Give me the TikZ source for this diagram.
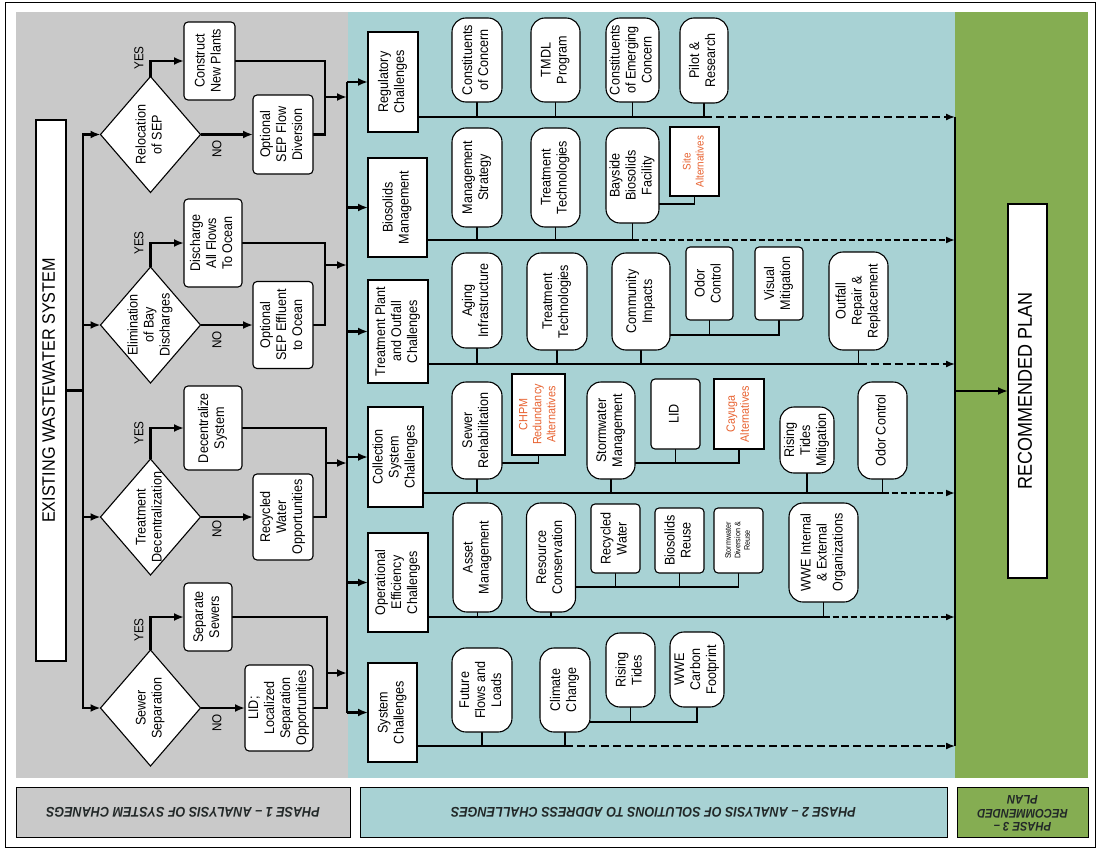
\documentclass[tikz,border=0pt]{standalone}
\usepackage{fontspec}
\setmainfont{Liberation Sans}[FakeStretch=0.9]
\usetikzlibrary{arrows.meta,shapes.geometric}
\definecolor{pgray}{RGB}{201,201,201}
\definecolor{pteal}{RGB}{168,210,212}
\definecolor{pgreen}{RGB}{133,173,82}
\definecolor{altc}{RGB}{232,98,48}
\definecolor{phtxt}{RGB}{34,40,40}
\pgfdeclarelayer{bg}
\pgfdeclarelayer{lines}
\pgfsetlayers{bg,lines,main}
\newcommand{\vtext}[1]{\rotatebox{90}{\begin{tabular}{@{}c@{}}#1\end{tabular}}}
\begin{document}
\begin{tikzpicture}[x=1pt,y=-1pt,
  every node/.style={inner sep=0pt,outer sep=0pt,font=\fontsize{14}{16}\selectfont},
  sq/.style={draw,line width=1.1pt,fill=white},
  rnd/.style={draw,line width=1.1pt,fill=white,rounded corners=4pt},
  pill/.style={draw,line width=1.1pt,fill=white,rounded corners=14pt},
  dia/.style={diamond,draw,line width=1.1pt,fill=white,minimum width=100pt,minimum height=116pt},
  alt/.style={sq,text=altc,font=\fontsize{11}{13}\selectfont},
  lab/.style={font=\fontsize{13}{15}\selectfont},
  ln1/.style={line width=2.2pt},
  arw/.style={line width=2.2pt,-{Latex[length=10pt,width=8pt]}},
  ln2/.style={line width=1.8pt},
  arw2/.style={line width=2.2pt,-{Latex[length=10pt,width=8pt]}},
  bus/.style={line width=1.3pt},
  conn/.style={line width=1.2pt},
  dshA/.style={line width=1.5pt,dash pattern=on 8pt off 4pt,-{Latex[length=9pt,width=7pt]}},
  dshB/.style={line width=2.6pt,dash pattern=on 6pt off 3pt,-{Latex[length=9pt,width=7pt]}},
  phl/.style={draw,line width=1pt,minimum height=50pt,font=\fontsize{14}{16}\selectfont\bfseries\itshape,text=phtxt}
]
\useasboundingbox (0,0) rectangle (1099,851);
\begin{pgfonlayer}{bg}
\fill[white] (0,0) rectangle (1099,851);
\draw[line width=1pt] (5,3) rectangle (1095,847);
\fill[pgray] (16,12) rectangle (348,778);
\fill[pteal] (348,12) rectangle (955,778);
\fill[pgreen] (955,12) rectangle (1088,778);
\end{pgfonlayer}

% ---------- phase labels
\node[phl,fill=pgray,minimum width=334pt] (ph1) at (183,812) {\rotatebox{180}{PHASE 1 – ANALYSIS OF SYSTEM CHANEGS}};
\node[phl,fill=pteal,minimum width=587pt] (ph2) at (653.5,812) {\rotatebox{180}{PHASE 2 – ANALYSIS OF SOLUTIONS TO ADDRESS CHALLENGES}};
\node[phl,fill=pgreen,minimum width=131pt,font=\fontsize{12.5}{13.5}\selectfont\bfseries\itshape] (ph3) at (1022.5,812) {\rotatebox{180}{\begin{tabular}{@{}c@{}}PHASE 3 –\\RECOMMENDED\\PLAN\end{tabular}}};

% ---------- phase 1
\node[sq,minimum width=30pt,minimum height=541pt,font=\fontsize{18}{20}\selectfont] (exist) at (51,390.5) {\vtext{EXISTING WASTEWATER SYSTEM}};

\node[dia] (d1) at (150.5,134.5) {};
\node (d1t) at (d1.center) {\vtext{Relocation\\of SEP}};
\node[dia] (d2) at (150.5,325) {};
\node (d2t) at (d2.center) {\vtext{Elimination\\of Bay\\Discharges}};
\node[dia] (d3) at (150.5,517) {};
\node (d3t) at (d3.center) {\vtext{Treatment\\Decentralization}};
\node[dia] (d4) at (150.5,708) {};
\node (d4t) at (d4.center) {\vtext{Sewer\\Separation}};

\node[rnd,minimum width=51pt,minimum height=78pt] (a1) at (209.5,61) {\vtext{Construct\\New Plants}};
\node[rnd,minimum width=60pt,minimum height=79pt] (b1) at (283,134.5) {\vtext{Optional\\SEP Flow\\Diversion}};
\node[rnd,minimum width=58pt,minimum height=88pt] (a2) at (213,243) {\vtext{Discharge\\All Flows\\To Ocean}};
\node[rnd,minimum width=60pt,minimum height=87pt] (b2) at (283,325) {\vtext{Optional\\SEP Effluent\\to Ocean}};
\node[rnd,minimum width=58pt,minimum height=84pt] (a3) at (213,428) {\vtext{Decentralize\\System}};
\node[rnd,minimum width=60pt,minimum height=86pt] (b3) at (283,517) {\vtext{Recycled\\Water\\Opportunities}};
\node[rnd,minimum width=48pt,minimum height=68pt] (a4) at (208,617) {\vtext{Separate\\Sewers}};
\node[rnd,minimum width=68pt,minimum height=86pt] (b4) at (279,708) {\vtext{LID;\\Localized\\Separation\\Opportunities}};

\node[lab] (y1) at (139,58) {\rotatebox{90}{YES}};
\node[lab] (y2) at (139,243) {\rotatebox{90}{YES}};
\node[lab] (y3) at (139,433) {\rotatebox{90}{YES}};
\node[lab] (y4) at (139,630) {\rotatebox{90}{YES}};
\node[lab] (n1) at (217,149) {\rotatebox{90}{NO}};
\node[lab] (n2) at (217,340) {\rotatebox{90}{NO}};
\node[lab] (n3) at (217,529) {\rotatebox{90}{NO}};
\node[lab] (n4) at (217,723) {\rotatebox{90}{NO}};

% ---------- phase 2 challenges
\node[sq,minimum width=50pt,minimum height=100pt] (c1) at (393,82) {\vtext{Regulatory\\Challenges}};
\node[sq,minimum width=59pt,minimum height=99pt] (c2) at (397.5,207.5) {\vtext{Biosolids\\Management}};
\node[sq,minimum width=60pt,minimum height=103pt] (c3) at (398,331.5) {\vtext{Treatment Plant\\and Outfall\\Challenges}};
\node[sq,minimum width=55pt,minimum height=100pt] (c4) at (395.5,457) {\vtext{Collection\\System\\Challenges}};
\node[sq,minimum width=60pt,minimum height=99pt] (c5) at (398,582.5) {\vtext{Operational\\Efficiency\\Challenges}};
\node[sq,minimum width=49pt,minimum height=99pt] (c6) at (392.5,712.5) {\vtext{System\\Challenges}};

% row 1
\node[pill,minimum width=50pt,minimum height=84pt] (r11) at (477,60) {\vtext{Constituents\\of Concern}};
\node[pill,minimum width=49pt,minimum height=84pt] (r12) at (555.5,60) {\vtext{TMDL\\Program}};
\node[pill,minimum width=53pt,minimum height=84pt] (r13) at (632.5,60) {\vtext{Constituents\\of Emerging\\Concern}};
\node[pill,minimum width=48pt,minimum height=85pt] (r14) at (704,60.5) {\vtext{Pilot \&\\Research}};
% row 2
\node[pill,minimum width=50pt,minimum height=99pt] (r21) at (477,177.5) {\vtext{Management\\Strategy}};
\node[pill,minimum width=49pt,minimum height=99pt] (r22) at (555.5,177.5) {\vtext{Treatment\\Technologies}};
\node[pill,minimum width=53pt,minimum height=95pt] (r23) at (632.5,175.5) {\vtext{Bayside\\Biosolids\\Facility}};
\node[alt,minimum width=49pt,minimum height=69pt] (r24) at (694.5,161.5) {\vtext{Site\\Alternatives}};
% row 3
\node[pill,minimum width=50pt,minimum height=95pt] (r31) at (477,300.5) {\vtext{Aging\\Infrastructure}};
\node[pill,minimum width=60pt,minimum height=97pt] (r32) at (557,301.5) {\vtext{Treatment\\Technologies}};
\node[pill,minimum width=58pt,minimum height=97pt] (r33) at (641,301.5) {\vtext{Community\\Impacts}};
\node[rnd,minimum width=47pt,minimum height=73pt] (r34) at (709.5,283.5) {\vtext{Odor\\Control}};
\node[rnd,minimum width=48pt,minimum height=73pt] (r35) at (779,283.5) {\vtext{Visual\\Mitigation}};
\node[pill,minimum width=59pt,minimum height=98pt] (r36) at (858.5,301) {\vtext{Outfall\\Repair \&\\Replacement}};
% row 4
\node[pill,minimum width=50pt,minimum height=97pt] (r41) at (477,430.5) {\vtext{Sewer\\Rehabilitation}};
\node[alt,minimum width=53pt,minimum height=81pt,font=\fontsize{12}{14}\selectfont] (r42) at (538.5,414.5) {\vtext{CHPM\\Redundancy\\Alternatives}};
\node[pill,minimum width=48pt,minimum height=97pt] (r43) at (611,430.5) {\vtext{Stormwater\\Management}};
\node[rnd,minimum width=49pt,minimum height=70pt] (r44) at (675.5,414) {\vtext{LID}};
\node[alt,minimum width=50pt,minimum height=70pt,font=\fontsize{12}{14}\selectfont] (r45) at (739,414) {\vtext{Cayuga\\Alternatives}};
\node[pill,minimum width=54pt,minimum height=66pt] (r46) at (807,440) {\vtext{Rising\\Tides\\Mitigation}};
\node[pill,minimum width=49pt,minimum height=97pt] (r47) at (882.5,430.5) {\vtext{Odor Control}};
% row 5
\node[pill,minimum width=49pt,minimum height=109pt] (r51) at (477.5,557.5) {\vtext{Asset\\Management}};
\node[pill,minimum width=49pt,minimum height=109pt] (r52) at (551,557.5) {\vtext{Resource\\Conservation}};
\node[rnd,minimum width=49pt,minimum height=69pt] (r53) at (615.5,538.5) {\vtext{Recycled\\Water}};
\node[rnd,minimum width=49pt,minimum height=65pt] (r54) at (679.5,540.5) {\vtext{Biosolids\\Reuse}};
\node[rnd,minimum width=49pt,minimum height=65pt,font=\fontsize{8}{9.5}\selectfont] (r55) at (738.5,540.5) {\vtext{Stormwater\\Diversion \&\\Reuse}};
\node[pill,minimum width=69pt,minimum height=99pt] (r56) at (823.5,552.5) {\vtext{WWE Internal\\\& External\\Organizations}};
% row 6
\node[pill,minimum width=60pt,minimum height=84pt] (r61) at (482,690) {\vtext{Future\\Flows and\\Loads}};
\node[pill,minimum width=50pt,minimum height=84pt] (r62) at (565,690) {\vtext{Climate\\Change}};
\node[pill,minimum width=49pt,minimum height=74pt] (r63) at (630.5,670) {\vtext{Rising\\Tides}};
\node[pill,minimum width=54pt,minimum height=75pt] (r64) at (697,669.5) {\vtext{WWE\\Carbon\\Footprint}};

% ---------- phase 3
\node[sq,minimum width=39pt,minimum height=374pt,font=\fontsize{20}{22}\selectfont] (rec) at (1027.5,391) {\vtext{RECOMMENDED PLAN}};

% ---------- connectors
\begin{pgfonlayer}{lines}
\coordinate (j0) at (83,390.5);
\coordinate (vt) at (347,82);
\draw[ln1] (exist.east) -- (j0);
\draw[arw] (j0) |- (d1.west);
\draw[arw] (j0) |- (d2.west);
\draw[arw] (j0) |- (d3.west);
\draw[arw] (j0) |- (d4.west);
% group 1
\draw[arw] (d1.north) |- (a1.west);
\draw[arw] (d1.east) -- (b1.west);
\coordinate (m1) at (325,97);
\draw[ln1] (a1.east) -| (m1);
\draw[ln1] (b1.east) -| (m1);
\draw[arw] (m1) -- (m1 -| vt);
% group 2
\draw[arw] (d2.north) |- (a2.west);
\draw[arw] (d2.east) -- (b2.west);
\coordinate (m2) at (325,265);
\draw[ln1] (a2.east) -| (m2);
\draw[ln1] (b2.east) -| (m2);
\draw[arw] (m2) -- (m2 -| vt);
% group 3
\draw[arw] (d3.north) |- (a3.west);
\draw[arw] (d3.east) -- (b3.west);
\coordinate (m3) at (326,463);
\draw[ln1] (a3.east) -| (m3);
\draw[ln1] (b3.east) -| (m3);
\draw[arw] (m3) -- (m3 -| vt);
% group 4
\draw[arw] (d4.north) |- (a4.west);
\draw[arw] (d4.east) -- (b4.west);
\coordinate (m4) at (327,673);
\draw[ln1] (a4.east) -| (m4);
\draw[ln1] (b4.east) -| (m4);
\draw[arw] (m4) -- (m4 -| vt);

% phase 2 trunk
\draw[ln2] (c1.west -| vt) -- (c6.west -| vt);
\foreach \c in {c1,c2,c3,c4,c5,c6} \draw[arw2] (\c.west -| vt) -- (\c.west);

% buses
\coordinate (e1) at (955,117);
\coordinate (e2) at (955,240);
\coordinate (e3) at (955,364);
\coordinate (e4) at (955,493);
\coordinate (e5) at (955,617);
\coordinate (e6) at (955,746);

\draw[bus] (c1.center |- e1) -- (r14.center |- e1);
\draw[dshA] (r14.center |- e1) -- (e1);
\foreach \n in {r11,r12,r13,r14} \draw[conn] (\n.center) -- (\n.center |- e1);

\draw[bus] (c2.center |- e2) -- (r23.center |- e2);
\draw[dshB] (r23.center |- e2) -- (e2);
\foreach \n in {r21,r22,r23} \draw[conn] (\n.center) -- (\n.center |- e2);
\draw[conn] (r23.center |- 0,204) -| (r24.center);

\draw[bus] (c3.center |- e3) -- (r36.center |- e3);
\draw[dshA] (r36.center |- e3) -- (e3);
\foreach \n in {r31,r32,r33,r36} \draw[conn] (\n.center) -- (\n.center |- e3);
\draw[conn] (r33.center |- 0,335) -| (r35.center);
\draw[conn] (r34.center) -- (r34.center |- 0,335);

\draw[bus] (c4.center |- e4) -- (r47.center |- e4);
\draw[dshB] (r47.center |- e4) -- (e4);
\foreach \n in {r41,r43,r46,r47} \draw[conn] (\n.center) -- (\n.center |- e4);
\draw[conn] (r41.center |- 0,463) -| (r42.center);
\draw[conn] (r43.center |- 0,463) -| (r45.center);
\draw[conn] (r44.center) -- (r44.center |- 0,463);

\draw[bus] (c5.center |- e5) -- (r56.center |- e5);
\draw[dshB] (r56.center |- e5) -- (e5);
\foreach \n in {r51,r52,r56} \draw[conn] (\n.center) -- (\n.center |- e5);
\draw[conn] (r52.center |- 0,587) -| (r55.center);
\draw[conn] (r53.center) -- (r53.center |- 0,587);
\draw[conn] (r54.center) -- (r54.center |- 0,587);

\draw[bus] (c6.center |- e6) -- (r62.center |- e6);
\draw[dshA] (r62.center |- e6) -- (e6);
\foreach \n in {r61,r62} \draw[conn] (\n.center) -- (\n.center |- e6);
\draw[conn] (r62.center |- 0,722) -| (r64.center);
\draw[conn] (r63.center) -- (r63.center |- 0,722);

% phase 3
\draw[ln2] (e1) -- (e6);
\draw[arw2] (e1 |- rec.west) -- (rec.west);
\end{pgfonlayer}
\end{tikzpicture}
\end{document}
